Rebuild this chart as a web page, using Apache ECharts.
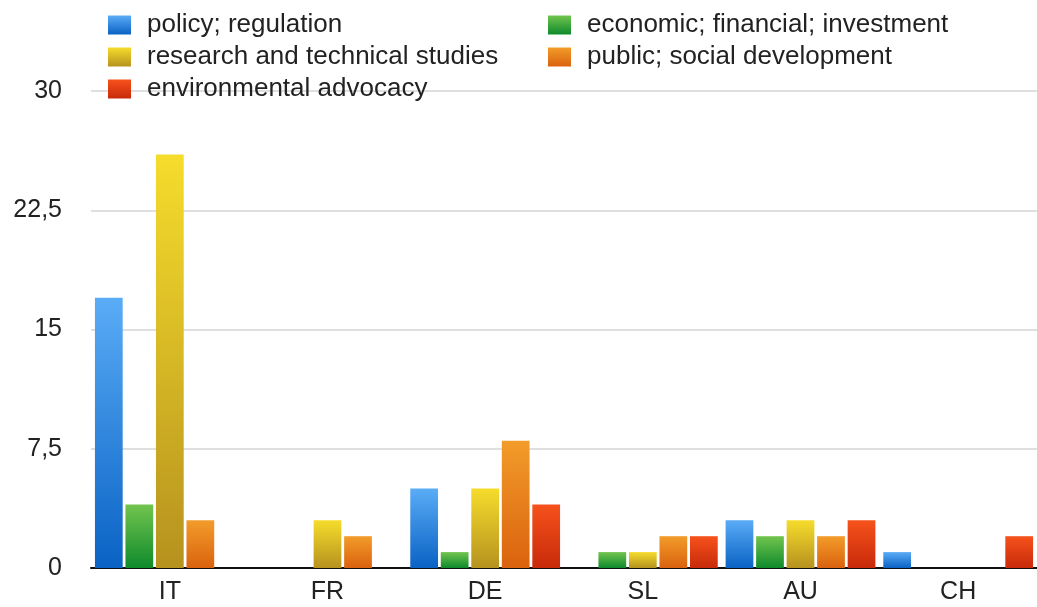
<!DOCTYPE html>
<html><head><meta charset="utf-8">
<script src="https://cdn.jsdelivr.net/npm/echarts@6/dist/echarts.min.js"></script>
<style>html,body{margin:0;padding:0;background:#fff}#c{width:1037px;height:607px}</style>
</head><body><div id="c"></div>
<script>
const categories = ['IT','FR','DE','SL','AU','CH'];
const seriesNames = ['policy; regulation','economic; financial; investment','research and technical studies','public; social development','environmental advocacy'];
const policy = [17,0,5,0,3,1];
const economic = [4,0,1,1,2,0];
const research = [26,3,5,1,3,0];
const publicSocial = [3,2,8,2,2,0];
const environmental = [0,0,4,2,3,2];
const yTicks = [0,7.5,15,22.5,30];

const values = [policy, economic, research, publicSocial, environmental];
const grads = [['#5aacf6','#0a62c4'],['#72c44e','#0e8a2c'],['#f6dc2c','#b6921e'],['#f29c2a','#da620e'],['#f6521c','#c82a0a']];
const chart = echarts.init(document.getElementById('c'));
const font = '"Liberation Sans", Arial, sans-serif';
chart.setOption({
  animation:false,
  textStyle:{fontFamily:font},
  legend:[
    {data:[seriesNames[0],seriesNames[2],seriesNames[4]], orient:'vertical', left:103, top:7, itemWidth:23, itemHeight:19, itemGap:6, icon:'rect',
     textStyle:{fontSize:26, color:'#222', fontFamily:font, padding:[0,0,0,11]}},
    {data:[seriesNames[1],seriesNames[3]], orient:'vertical', left:543, top:7, itemWidth:23, itemHeight:19, itemGap:6, icon:'rect',
     textStyle:{fontSize:26, color:'#222', fontFamily:font, padding:[0,0,0,11]}}
  ],
  grid:{left:91, right:0, top:91, bottom:39, containLabel:false},
  xAxis:{type:'category', data:categories, axisTick:{show:false},
    axisLine:{lineStyle:{color:'#111', width:2}},
    axisLabel:{fontSize:25, color:'#222', margin:12}},
  yAxis:{type:'value', min:0, max:30, interval:7.5,
    axisLine:{show:false}, axisTick:{show:false},
    splitLine:{lineStyle:{color:'#d4d4d4', width:1.5}},
    axisLabel:{fontSize:25, color:'#222', margin:29, formatter:v=>String(v).replace('.',',')}},
  series: seriesNames.map((n,i)=>({
    name:n, type:'bar', data:values[i], barGap:'10%', barCategoryGap:'5%',
    itemStyle:{color:new echarts.graphic.LinearGradient(0,0,0,1,[{offset:0,color:grads[i][0]},{offset:1,color:grads[i][1]}])}
  }))
});
</script></body></html>
